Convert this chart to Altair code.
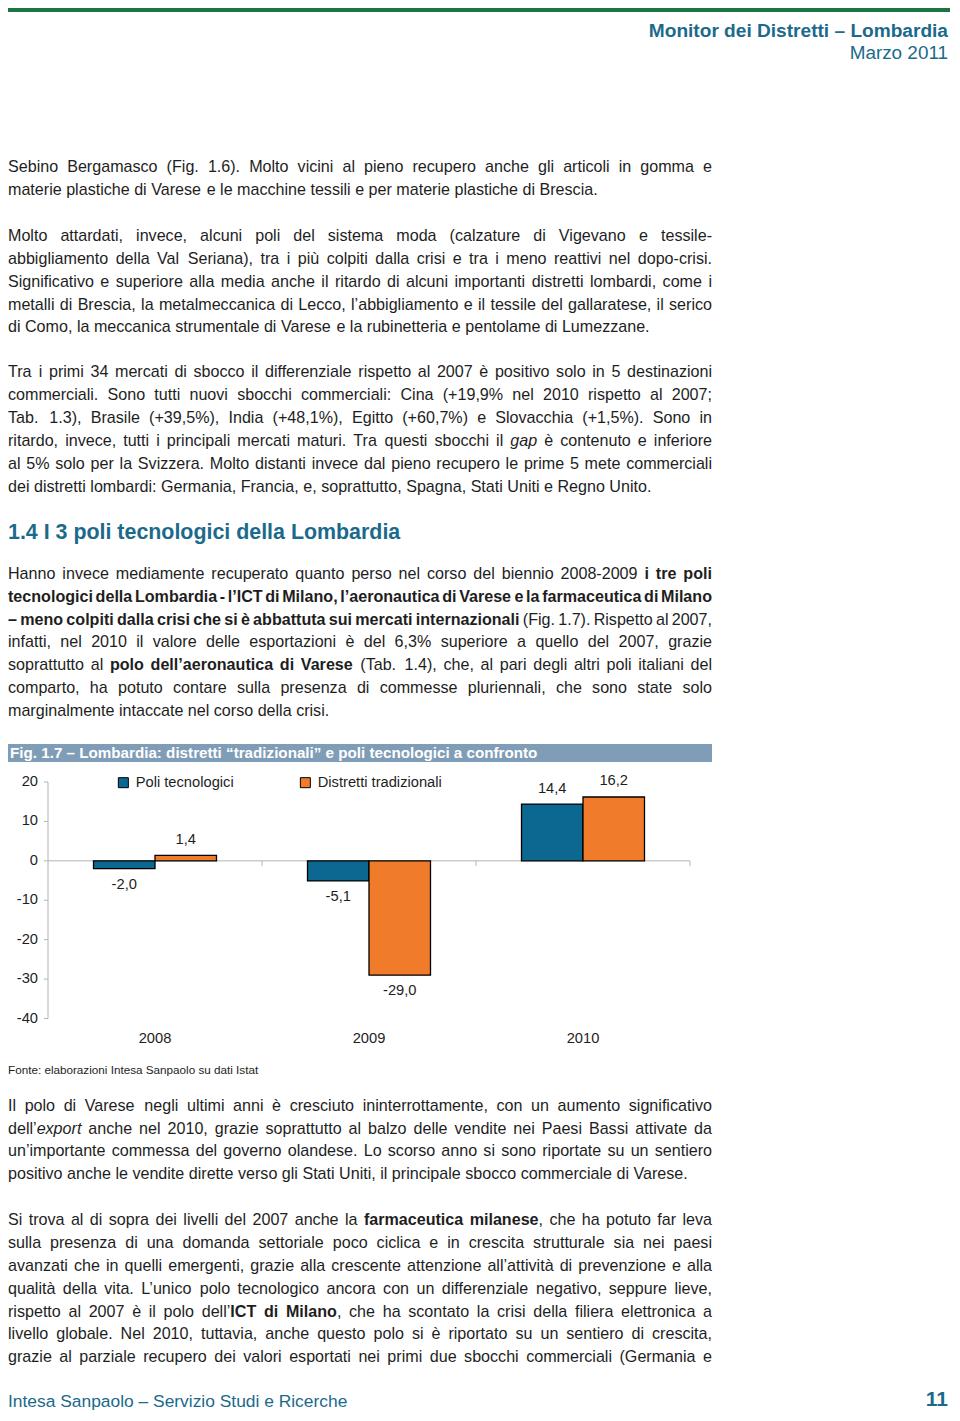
import re
import altair as alt
import pandas as pd

# ---------------- chart data ----------------
years = ["2008", "2009", "2010"]
series = ["Poli tecnologici", "Distretti tradizionali"]
poli_tecnologici = [-2.0, -5.1, 14.4]
distretti_tradizionali = [1.4, -29.0, 16.2]
y_ticks = [20, 10, 0, -10, -20, -30, -40]

# ---------------- page text ----------------
header_title = "Monitor dei Distretti – Lombardia"
header_date = "Marzo 2011"
section_heading = "1.4 I 3 poli tecnologici della Lombardia"
fig_title = "Fig. 1.7 – Lombardia: distretti “tradizionali” e poli tecnologici a confronto"
source_note = "Fonte: elaborazioni Intesa Sanpaolo su dati Istat"
footer_left = "Intesa Sanpaolo – Servizio Studi e Ricerche"
page_number = "11"

# (line centre on the page, text with *bold* / _italic_ markup, justified?)
body_top = [
    (167, "Sebino Bergamasco (Fig. 1.6). Molto vicini al pieno recupero anche gli articoli in gomma e", True),
    (190, "materie plastiche di Varese e le macchine tessili e per materie plastiche di Brescia.", False),
    (236, "Molto attardati, invece, alcuni poli del sistema moda (calzature di Vigevano e tessile-", True),
    (259, "abbigliamento della Val Seriana), tra i più colpiti dalla crisi e tra i meno reattivi nel dopo-crisi.", True),
    (282, "Significativo e superiore alla media anche il ritardo di alcuni importanti distretti lombardi, come i", True),
    (305, "metalli di Brescia, la metalmeccanica di Lecco, l’abbigliamento e il tessile del gallaratese, il serico", True),
    (327, "di Como, la meccanica strumentale di Varese e la rubinetteria e pentolame di Lumezzane.", False),
    (372, "Tra i primi 34 mercati di sbocco il differenziale rispetto al 2007 è positivo solo in 5 destinazioni", True),
    (395, "commerciali. Sono tutti nuovi sbocchi commerciali: Cina (+19,9% nel 2010 rispetto al 2007;", True),
    (418, "Tab. 1.3), Brasile (+39,5%), India (+48,1%), Egitto (+60,7%) e Slovacchia (+1,5%). Sono in", True),
    (441, "ritardo, invece, tutti i principali mercati maturi. Tra questi sbocchi il _gap_ è contenuto e inferiore", True),
    (464, "al 5% solo per la Svizzera. Molto distanti invece dal pieno recupero le prime 5 mete commerciali", True),
    (487, "dei distretti lombardi: Germania, Francia, e, soprattutto, Spagna, Stati Uniti e Regno Unito.", False),
    (574, "Hanno invece mediamente recuperato quanto perso nel corso del biennio 2008-2009 *i tre poli*", True),
    (597, "*tecnologici della Lombardia - l’ICT di Milano, l’aeronautica di Varese e la farmaceutica di Milano*", True),
    (620, "*– meno colpiti dalla crisi che si è abbattuta sui mercati internazionali* (Fig. 1.7). Rispetto al 2007,", True),
    (642, "infatti, nel 2010 il valore delle esportazioni è del 6,3% superiore a quello del 2007, grazie", True),
    (665, "soprattutto al *polo dell’aeronautica di Varese* (Tab. 1.4), che, al pari degli altri poli italiani del", True),
    (688, "comparto, ha potuto contare sulla presenza di commesse pluriennali, che sono state solo", True),
    (711, "marginalmente intaccate nel corso della crisi.", False),
]
body_bottom = [
    (1106, "Il polo di Varese negli ultimi anni è cresciuto ininterrottamente, con un aumento significativo", True),
    (1129, "dell’_export_ anche nel 2010, grazie soprattutto al balzo delle vendite nei Paesi Bassi attivate da", True),
    (1151, "un’importante commessa del governo olandese. Lo scorso anno si sono riportate su un sentiero", True),
    (1174, "positivo anche le vendite dirette verso gli Stati Uniti, il principale sbocco commerciale di Varese.", False),
    (1220, "Si trova al di sopra dei livelli del 2007 anche la *farmaceutica milanese*, che ha potuto far leva", True),
    (1243, "sulla presenza di una domanda settoriale poco ciclica e in crescita strutturale sia nei paesi", True),
    (1266, "avanzati che in quelli emergenti, grazie alla crescente attenzione all’attività di prevenzione e alla", True),
    (1289, "qualità della vita. L’unico polo tecnologico ancora con un differenziale negativo, seppure lieve,", True),
    (1312, "rispetto al 2007 è il polo dell’*ICT di Milano*, che ha scontato la crisi della filiera elettronica a", True),
    (1334, "livello globale. Nel 2010, tuttavia, anche questo polo si è riportato su un sentiero di crescita,", True),
    (1357, "grazie al parziale recupero dei valori esportati nei primi due sbocchi commerciali (Germania e", True),
]

# ---------------- style ----------------
FONT = "'Liberation Sans', Arial, sans-serif"
TEAL = "#1b6a8b"
INK = "#1e1e1e"
BLUE = "#0d6891"
ORANGE = "#f07b2a"
AXIS = "#b4b4b4"
FIGBAR = "#7f9db7"
GREEN = "#1d7442"
OFF = 8  # page margin


def px(v):
    return v - OFF


# Arial / Liberation Sans advance widths (1/1000 em)
W = {' ': 278, '!': 278, '%': 889, "'": 191, '(': 333, ')': 333, '+': 584, ',': 278, '-': 333,
     '.': 278, '/': 278, ':': 278, ';': 278, '’': 222, '‘': 222, '“': 333, '”': 333, '–': 556,
     'A': 667, 'B': 667, 'C': 722, 'D': 722, 'E': 667, 'F': 611, 'G': 778, 'H': 722, 'I': 278,
     'J': 500, 'K': 667, 'L': 556, 'M': 833, 'N': 722, 'O': 778, 'P': 667, 'Q': 778, 'R': 722,
     'S': 667, 'T': 611, 'U': 722, 'V': 667, 'W': 944, 'X': 667, 'Y': 667, 'Z': 611,
     'a': 556, 'b': 556, 'c': 500, 'd': 556, 'e': 556, 'f': 278, 'g': 556, 'h': 556, 'i': 222,
     'j': 222, 'k': 500, 'l': 222, 'm': 833, 'n': 556, 'o': 556, 'p': 556, 'q': 556, 'r': 333,
     's': 500, 't': 278, 'u': 556, 'v': 500, 'w': 722, 'x': 500, 'y': 500, 'z': 500,
     'è': 556, 'é': 556, 'à': 556, 'ù': 556, 'ì': 278, 'ò': 556}
for d in "0123456789":
    W[d] = 556
WB = dict(W)
WB.update({' ': 278, '(': 333, ')': 333, ',': 278, '-': 333, '.': 278, '’': 278, '–': 556,
           'a': 556, 'b': 611, 'c': 556, 'd': 611, 'e': 556, 'f': 333, 'g': 611, 'h': 611, 'i': 278,
           'j': 278, 'k': 556, 'l': 278, 'm': 889, 'n': 611, 'o': 611, 'p': 611, 'q': 611, 'r': 389,
           's': 556, 't': 333, 'u': 611, 'v': 556, 'w': 778, 'x': 556, 'y': 556, 'z': 500,
           'è': 556, 'à': 556, 'ù': 611, 'A': 722, 'C': 722, 'F': 611, 'I': 278, 'L': 611,
           'M': 833, 'T': 611, 'V': 667})


def text_w(s, fs, bold=False):
    table = WB if bold else W
    u = sum(table.get(c, 556) for c in s)
    return u / 1000.0 * fs


def fit(s, target, bold=False):
    return round(target / text_w(s, 1.0, bold), 1)


BODY_FS = fit("materie plastiche di Varese e le macchine tessili e per materie plastiche di Brescia.", 591)
CH_FS = fit("Poli tecnologici", 98)

rows = []


def add(x, y, text, size, color=INK, weight="normal", style="normal", align="left"):
    rows.append(dict(x=x, y=y, text=text, size=size, color=color, weight=weight, style=style, align=align))


def parse(markup):
    runs = []
    for tok in re.split(r'(\*[^*]+\*|_[^_]+_)', markup):
        if not tok:
            continue
        if tok.startswith('*'):
            runs.append((tok[1:-1], 'bold'))
        elif tok.startswith('_'):
            runs.append((tok[1:-1], 'italic'))
        else:
            runs.append((tok, 'normal'))
    words = [[]]
    for text, st in runs:
        parts = text.split(' ')
        for k, p in enumerate(parts):
            if k > 0:
                words.append([])
            if p:
                words[-1].append((p, st))
    return [w for w in words if w]


LEFT, RIGHT = px(8), px(712)


def layout(lines):
    for yc, markup, justified in lines:
        words = parse(markup)
        widths = [sum(text_w(t, BODY_FS, st == 'bold') for t, st in w) for w in words]
        if justified and len(words) > 1:
            gap = (RIGHT - LEFT - sum(widths)) / (len(words) - 1)
        else:
            gap = text_w(' ', BODY_FS)
        cur = LEFT
        for w, ww in zip(words, widths):
            c = cur
            for t, st in w:
                add(c, px(yc), t, BODY_FS,
                    weight='bold' if st == 'bold' else 'normal',
                    style='italic' if st == 'italic' else 'normal')
                c += text_w(t, BODY_FS, st == 'bold')
            cur += ww + gap


layout(body_top)
layout(body_bottom)

add(px(948), px(31), header_title, fit(header_title, 299, True), TEAL, 'bold', align='right')
add(px(948), px(53), header_date, fit(header_date, 100), TEAL, align='right')
add(px(8), px(533), section_heading, fit(section_heading, 392, True), TEAL, 'bold')
add(px(10), px(753), fig_title, fit(fig_title, 523, True), 'white', 'bold')
add(px(8), px(1070), source_note, fit(source_note, 251), INK)
add(px(8), px(1402), footer_left, fit(footer_left, 340), TEAL)
add(px(948), px(1400), page_number, 21, TEAL, 'bold', align='right')

text_df = pd.DataFrame(rows)

layers = []

one = pd.DataFrame({'a': [0]})
layers.append(alt.Chart(one).mark_rect(color=GREEN).encode(
    x=alt.value(0), x2=alt.value(px(950)), y=alt.value(0), y2=alt.value(4)))
layers.append(alt.Chart(one).mark_rect(color=FIGBAR).encode(
    x=alt.value(0), x2=alt.value(px(712)), y=alt.value(px(744)), y2=alt.value(px(762))))

for (wgt, sty, aln), sub in text_df.groupby(['weight', 'style', 'align']):
    layers.append(
        alt.Chart(sub).mark_text(font=FONT, fontWeight=wgt, fontStyle=sty, align=aln, baseline='middle')
        .encode(
            x=alt.X('x:Q', scale=None, axis=None),
            y=alt.Y('y:Q', scale=None, axis=None),
            text='text:N',
            size=alt.Size('size:Q', scale=None, legend=None),
            color=alt.Color('color:N', scale=None, legend=None),
        )
    )

# ---------------- the bar chart ----------------
bars_df = pd.DataFrame({
    'year': years * 2,
    'series': [series[0]] * 3 + [series[1]] * 3,
    'value': poli_tecnologici + distretti_tradizionali,
})
bars_df['label'] = bars_df['value'].map(lambda v: f"{v:.1f}".replace('.', ','))

xs = alt.Scale(domain=years, range=[px(48), px(690)], paddingInner=0, paddingOuter=0)
xo = alt.Scale(domain=series, paddingInner=0, paddingOuter=0.74)
ys = alt.Scale(domain=[-40, 20], range=[px(1018.5), px(782)], nice=False)

# y axis line, ticks and labels
layers.append(alt.Chart(one).mark_rule(color=AXIS, strokeWidth=1).encode(
    x=alt.value(px(48)), y=alt.YDatum(-40, scale=ys, axis=None), y2=alt.datum(20)))
ticks_df = pd.DataFrame({'t': y_ticks, 'lab': [str(t) for t in y_ticks]})
layers.append(alt.Chart(ticks_df).mark_rule(color=AXIS, strokeWidth=1).encode(
    y=alt.Y('t:Q', scale=ys, axis=None), x=alt.value(px(44)), x2=alt.value(px(48))))
layers.append(alt.Chart(ticks_df).mark_text(font=FONT, fontSize=CH_FS, color=INK, align='right',
                                            baseline='middle').encode(
    y=alt.Y('t:Q', scale=ys, axis=None), x=alt.value(px(38)), text='lab:N'))

# zero line with category ticks
layers.append(alt.Chart(one).mark_rule(color=AXIS, strokeWidth=1).encode(
    y=alt.YDatum(0, scale=ys, axis=None), x=alt.value(px(48)), x2=alt.value(px(690))))
years_df = pd.DataFrame({'year': years})
layers.append(alt.Chart(years_df).mark_rule(color=AXIS, strokeWidth=1).encode(
    x=alt.X('year:N', scale=xs, bandPosition=1, axis=None),
    y=alt.YDatum(0, scale=ys, axis=None), y2=alt.value(px(866))))

# bars
layers.append(alt.Chart(bars_df).mark_bar(stroke='black', strokeWidth=1.3).encode(
    x=alt.X('year:N', scale=xs, axis=None),
    xOffset=alt.XOffset('series:N', scale=xo),
    y=alt.Y('value:Q', scale=ys, axis=None),
    y2=alt.datum(0),
    color=alt.Color('series:N', scale=alt.Scale(domain=series, range=[BLUE, ORANGE]),
                    legend=alt.Legend(title=None, orient='none', legendX=px(116), legendY=px(775),
                                      direction='horizontal', symbolType='square', symbolSize=100,
                                      symbolStrokeColor='black', symbolStrokeWidth=1, symbolOpacity=1,
                                      labelFont=FONT, labelFontSize=CH_FS, labelColor=INK,
                                      labelOffset=5, columnPadding=64, padding=0)),
))

# value labels
pos = bars_df[bars_df['value'] >= 0]
neg = bars_df[bars_df['value'] < 0]
for sub, dy in ((pos, -15.5), (neg, 16)):
    layers.append(alt.Chart(sub).mark_text(font=FONT, fontSize=CH_FS, color=INK, align='center',
                                           baseline='middle', dy=dy).encode(
        x=alt.X('year:N', scale=xs, axis=None),
        xOffset=alt.XOffset('series:N', scale=xo),
        y=alt.Y('value:Q', scale=ys, axis=None),
        text='label:N'))

# category labels
layers.append(alt.Chart(years_df).mark_text(font=FONT, fontSize=CH_FS, color=INK, align='center',
                                            baseline='middle').encode(
    x=alt.X('year:N', scale=xs, axis=None), y=alt.value(px(1039)), text='year:N'))

chart = (
    alt.layer(*layers)
    .resolve_scale(x='independent', y='independent', color='independent', size='independent')
    .properties(width=944, height=1405, padding=0, autosize=alt.AutoSizeParams(type='none'))
    .configure_view(stroke=None)
)

chart.save("out.html", embed_options={"renderer": "svg", "actions": False})
